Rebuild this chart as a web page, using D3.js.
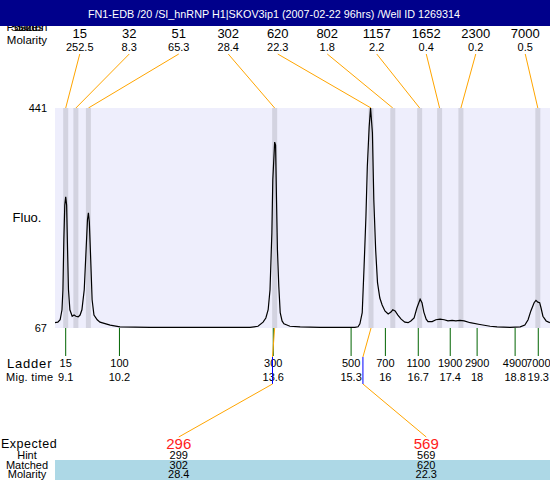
<!DOCTYPE html>
<html>
<head>
<meta charset="utf-8">
<script src="https://cdn.jsdelivr.net/npm/d3@7"></script>
<style>
  body { margin: 0; background: #fff; }
  svg { display: block; font-family: "Liberation Sans", Arial, sans-serif; }
</style>
</head>
<body>
<span></span>
<script>
var title = "FN1-EDB /20 /SI_hnRNP H1|SKOV3ip1 (2007-02-22 96hrs) /Well ID 1269314";

// detected peaks
var peakSizes = [15, 32, 51, 302, 620, 802, 1157, 1652, 2300, 7000];
var peakMolarity = ["252.5", "8.3", "65.3", "28.4", "22.3", "1.8", "2.2", "0.4", "0.2", "0.5"];
var peakTimes = [9.10, 9.32, 9.59, 13.61, 15.69, 16.16, 16.74, 17.17, 17.63, 19.29];

// ladder
var ladderSizes = [15, 100, 300, 500, 700, 1100, 1900, 2900, 4900, 7000];
var ladderTimes = [9.10, 10.26, 13.58, 15.26, 16.00, 16.71, 17.40, 17.98, 18.80, 19.30];
var ladderTimeLabels = ["9.1", "10.2", "13.6", "15.3", "16", "16.7", "17.4", "18", "18.8", "19.3"];

// expected fragments
var expectedSizes = [296, 569];
var hintSizes = [299, 569];
var matchedSizes = [302, 620];
var matchedMolarity = ["28.4", "22.3"];
var matchedPeak = [3, 4];

var yTicks = [67, 441];

// electropherogram trace (migration time, fluorescence)
var traceTime = [8.87, 8.93, 8.98, 9.02, 9.04, 9.06, 9.08, 9.10, 9.12, 9.14, 9.16, 9.19, 9.24, 9.28, 9.32, 9.37,
  9.41, 9.45, 9.50, 9.54, 9.57, 9.59, 9.61, 9.64, 9.67, 9.71, 9.78, 9.84, 10.06, 10.27, 10.92, 12.00,
  13.08, 13.25, 13.36, 13.42, 13.47, 13.51, 13.55, 13.57, 13.61, 13.63, 13.65, 13.67, 13.70, 13.73, 13.77, 13.81,
  13.94, 14.16, 14.59, 15.02, 15.34, 15.41, 15.45, 15.50, 15.54, 15.58, 15.61, 15.65, 15.68, 15.72, 15.75, 15.79,
  15.83, 15.88, 15.93, 15.99, 16.06, 16.12, 16.16, 16.21, 16.27, 16.34, 16.42, 16.49, 16.55, 16.62, 16.68, 16.75,
  16.79, 16.83, 16.88, 16.92, 17.01, 17.09, 17.18, 17.27, 17.35, 17.44, 17.52, 17.61, 17.70, 17.83, 18.04, 18.26,
  18.41, 18.69, 18.91, 19.01, 19.08, 19.14, 19.21, 19.25, 19.29, 19.33, 19.36, 19.40, 19.47, 19.55];
var traceFluo = [76, 77, 81, 98, 132, 217, 276, 290, 276, 200, 132, 98, 87, 89, 87, 86,
  89, 98, 132, 200, 251, 263, 247, 183, 115, 89, 81, 77, 72, 69, 68, 68,
  68, 70, 77, 84, 98, 132, 229, 319, 383, 378, 285, 200, 137, 93, 79, 74,
  70, 69, 68, 68, 68, 69, 74, 93, 171, 256, 341, 409, 441, 399, 285, 200,
  144, 118, 106, 96, 91, 94, 98, 96, 89, 82, 77, 76, 79, 84, 101, 116,
  110, 94, 82, 78, 78, 81, 82, 81, 79, 80, 79, 80, 79, 76, 73, 70,
  69, 68, 69, 72, 81, 96, 110, 114, 111, 110, 101, 87, 79, 76];

var width = 550, height = 480;
var plotLeft = 55, plotRight = 550, plotTop = 108, plotBottom = 328;
var bandW = 5;
var orange = "#FFA500", green = "#006400", blue = "#0000FF";

var svg = d3.select("span").append("svg")
  .attr("width", width).attr("height", height);

var x = d3.scaleLinear().domain([8.869, 19.553]).range([plotLeft, plotRight]);
var y = d3.scaleLinear().domain(yTicks).range([plotBottom, plotTop]);
var topCols = d3.scaleBand().domain(d3.range(peakSizes.length)).range([plotLeft, plotRight]);
var botCols = d3.scaleBand().domain(d3.range(expectedSizes.length)).range([plotLeft, plotRight]);
// size -> migration time along the ladder
var sizeToTime = d3.scaleLinear().domain(ladderSizes).range(ladderTimes);

// left header labels (partly hidden under the title band)
["Position", "Size", "Status"].forEach(function(t) {
  svg.append("text").attr("x", 27).attr("y", 31).attr("text-anchor", "middle")
    .attr("font-size", 11.5).text(t);
});
svg.append("text").attr("x", 27).attr("y", 44).attr("text-anchor", "middle")
  .attr("font-size", 11.5).text("Molarity");

// title band
svg.append("rect").attr("x", 0).attr("y", 0).attr("width", width).attr("height", 26)
  .attr("fill", "#00008B");
svg.append("text").attr("x", 274).attr("y", 17.5).attr("text-anchor", "middle")
  .attr("fill", "#fff").attr("font-size", 10.8).text(title);

// peak size / molarity columns
var head = svg.append("g");
head.selectAll(".psize").data(peakSizes).enter().append("text")
  .attr("x", function(d, i) { return topCols(i) + topCols.bandwidth() / 2; })
  .attr("y", 38).attr("text-anchor", "middle").attr("font-size", 13)
  .text(function(d) { return d; });
head.selectAll(".pmol").data(peakMolarity).enter().append("text")
  .attr("x", function(d, i) { return topCols(i) + topCols.bandwidth() / 2; })
  .attr("y", 50.5).attr("text-anchor", "middle").attr("font-size", 11)
  .text(function(d) { return d; });
head.selectAll("line").data(peakTimes).enter().append("line")
  .attr("x1", function(d, i) { return topCols(i) + topCols.bandwidth() / 2; })
  .attr("y1", 54)
  .attr("x2", function(d) { return x(d); })
  .attr("y2", plotTop)
  .attr("stroke", orange).attr("stroke-width", 1);

// plot area
svg.append("rect").attr("x", plotLeft).attr("y", plotTop)
  .attr("width", plotRight - plotLeft).attr("height", plotBottom - plotTop)
  .attr("fill", "#EEEEFC");
svg.append("g").selectAll("rect").data(peakTimes).enter().append("rect")
  .attr("x", function(d) { return x(d) - bandW / 2; })
  .attr("y", plotTop).attr("width", bandW).attr("height", plotBottom - plotTop)
  .attr("fill", "#D3D3E0");

// y labels
svg.append("g").selectAll("text").data(yTicks).enter().append("text")
  .attr("x", 47).attr("y", function(d) { return y(d) + 4; })
  .attr("text-anchor", "end").attr("font-size", 11)
  .text(function(d) { return d; });
svg.append("text").attr("x", 27).attr("y", 222).attr("text-anchor", "middle")
  .attr("font-size", 13).text("Fluo.");

// trace
var line = d3.line()
  .x(function(d) { return x(d); })
  .y(function(d, i) { return y(traceFluo[i]); });
svg.append("path").datum(traceTime).attr("d", line)
  .attr("fill", "none").attr("stroke", "#000").attr("stroke-width", 1.2);

// ladder ticks and labels
var lad = svg.append("g");
lad.selectAll("line").data(ladderTimes).enter().append("line")
  .attr("x1", function(d) { return x(d); }).attr("x2", function(d) { return x(d); })
  .attr("y1", plotBottom).attr("y2", 356)
  .attr("stroke", green).attr("stroke-width", 1);
lad.selectAll(".lsize").data(ladderSizes).enter().append("text")
  .attr("x", function(d, i) { return x(ladderTimes[i]); })
  .attr("y", 367).attr("text-anchor", "middle").attr("font-size", 11)
  .text(function(d) { return d; });
lad.selectAll(".ltime").data(ladderTimeLabels).enter().append("text")
  .attr("x", function(d, i) { return x(ladderTimes[i]); })
  .attr("y", 381).attr("text-anchor", "middle").attr("font-size", 11)
  .text(function(d) { return d; });
svg.append("text").attr("x", 7).attr("y", 368)
  .attr("font-size", 13).attr("letter-spacing", 0.8).text("Ladder");
svg.append("text").attr("x", 6).attr("y", 381)
  .attr("font-size", 11).attr("letter-spacing", 0.3).text("Mig. time");

// matched peak connectors
var con = svg.append("g");
hintSizes.forEach(function(h, i) {
  var hx = x(sizeToTime(h));
  var px = x(peakTimes[matchedPeak[i]]);
  var cx = botCols(i) + botCols.bandwidth() / 2;
  con.append("line").attr("x1", px).attr("y1", plotBottom).attr("x2", hx).attr("y2", 357)
    .attr("stroke", orange);
  con.append("line").attr("x1", hx).attr("y1", 357).attr("x2", hx).attr("y2", 384)
    .attr("stroke", blue);
  con.append("line").attr("x1", hx).attr("y1", 384).attr("x2", cx).attr("y2", 437)
    .attr("stroke", orange);
});

// bottom table
svg.append("rect").attr("x", plotLeft).attr("y", 460).attr("width", plotRight - plotLeft)
  .attr("height", 20).attr("fill", "#ADD8E6");
svg.append("text").attr("x", 1).attr("y", 448)
  .attr("font-size", 12.5).attr("letter-spacing", 0.5).text("Expected");
[["Hint", 459], ["Matched", 469], ["Molarity", 477.5]].forEach(function(r) {
  svg.append("text").attr("x", 27).attr("y", r[1]).attr("text-anchor", "middle")
    .attr("font-size", 11).text(r[0]);
});
var bot = svg.append("g");
function colX(d, i) { return botCols(i) + botCols.bandwidth() / 2; }
bot.selectAll(".exp").data(expectedSizes).enter().append("text")
  .attr("x", colX).attr("y", 449).attr("text-anchor", "middle")
  .attr("font-size", 15).attr("fill", "#FF2020").text(function(d) { return d; });
[[hintSizes, 459], [matchedSizes, 469], [matchedMolarity, 478]].forEach(function(r) {
  bot.append("g").selectAll("text").data(r[0]).enter().append("text")
    .attr("x", colX).attr("y", r[1]).attr("text-anchor", "middle")
    .attr("font-size", 11).text(function(d) { return d; });
});
</script>
</body>
</html>
